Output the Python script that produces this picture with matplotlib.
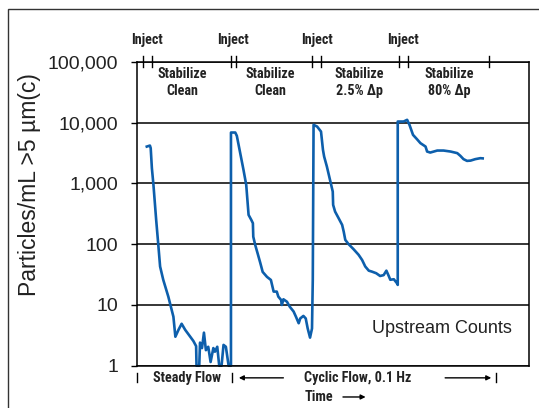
import numpy as np
import matplotlib.pyplot as plt
import matplotlib.transforms as mtransforms
from matplotlib.patches import Rectangle

# upstream particle counts vs time (arbitrary time units, 0-100)
time = [2.5, 3.3, 3.5, 3.8, 4.2, 4.9, 5.4, 5.9, 6.7, 8.0, 9.3, 9.8, 10.6, 11.4, 12.3,
        13.6, 14.4, 15.1, 15.2, 15.9, 16.1, 16.6, 17.1, 17.6, 18.2, 18.8, 19.5, 19.9,
        20.5, 21.0, 21.6, 22.1, 22.7, 23.4, 24.0,
        24.0, 25.1, 25.5, 26.2, 27.2, 27.9, 28.5, 29.2, 29.6, 29.7, 30.2, 30.8, 31.5,
        32.1, 33.2, 34.2, 34.9, 35.7, 36.1, 36.8, 37.0, 37.4, 38.3, 39.0, 40.0, 40.6,
        41.3, 41.7, 42.5, 43.1, 43.6, 44.2, 44.7, 44.9, 45.1,
        46.0, 47.0, 47.5, 47.8, 48.5, 49.4, 50.0, 50.1, 50.6, 51.5, 52.4, 52.8, 53.2,
        54.0, 55.3, 56.6, 57.5, 58.3, 59.2, 60.0, 61.1, 62.1, 63.0, 63.7, 64.3, 64.7,
        65.6, 66.4, 66.6, 66.6,
        68.1, 69.0, 69.6, 70.5, 71.5, 72.4, 73.7, 74.1, 74.9, 75.8, 76.7, 78.3, 80.1,
        81.8, 82.6, 83.4, 84.3, 85.2, 86.4, 87.7, 88.3]
counts = [4050, 4210, 3820, 1790, 950, 250, 105, 43, 26, 13.7, 6.4, 3.0, 3.9, 4.9, 3.9,
          3.0, 2.55, 2.1, 1, 1, 2.4, 1.95, 3.5, 1.8, 2.05, 1.15, 1.95, 1.7,
          2.05, 1, 1, 2.2, 2.05, 1, 1,
          6900, 6900, 6090, 3580, 1675, 948, 304, 251, 222, 133, 97, 71, 49,
          35, 29, 25.8, 16.6, 16.6, 13.7, 12.1, 10, 12.4, 11.3, 9.4, 7.8, 6.4,
          5.0, 6.0, 6.6, 6.0, 4.1, 2.9, 4.1, 26, 9230,
          8660, 7160, 3580, 2775, 1900, 1075, 735, 444, 344, 268, 208, 161, 118,
          101, 83, 67, 55, 43, 36.7, 35.4, 33.3, 30, 31, 36.7, 30, 26,
          26.5, 22.8, 21.4, 10470,
          10470, 11170, 9230, 6320, 5370, 4610, 4055, 3355, 3230, 3355, 3485, 3485, 3355,
          3160, 2850, 2515, 2355, 2380, 2515, 2610, 2590]

yticks = [1, 10, 100, 1000, 10000, 100000]
ytick_labels = ['1', '10', '100', '1,000', '10,000', '100,000']

inject_times = [(1.5, 3.8), (23.9, 25.2), (44.8, 47.1), (66.8, 69.1)]
stage_labels = ['Stabilize\nClean', 'Stabilize\nClean', 'Stabilize\n2.5% \u0394p', 'Stabilize\n80% \u0394p']
stage_centers = [11.5, 34.0, 56.8, 79.8]
end_time = 89.8

narrow = ['Roboto Condensed', 'Roboto', 'DejaVu Sans']
plt.rcParams['font.family'] = ['Liberation Sans', 'DejaVu Sans']
ink = '#222222'

fig = plt.figure(figsize=(5.39, 4.08), dpi=100)
fig.patches.append(Rectangle((7.5 / 539, -0.1), 1.0, 1.0 - 9 / 408 + 0.1, transform=fig.transFigure,
                             fill=False, edgecolor='#333333', linewidth=1.0))
ax = fig.add_axes([137 / 539, 42.3 / 408, 391.5 / 539, 303.7 / 408])

ax.plot(time, counts, color='#0d5fac', linewidth=1.9, clip_on=False, solid_joinstyle='round')

ax.set_yscale('log')
ax.set_ylim(1, 100000)
ax.set_xlim(0, 100)
ax.set_yticks(yticks)
ax.set_yticklabels(ytick_labels, fontsize=14, color=ink)
ax.minorticks_off()
ax.tick_params(axis='y', direction='out', length=4.5, width=1.0, pad=9)
ax.set_xticks([])
ax.grid(axis='y', color='black', linewidth=1.1)
for s in ax.spines.values():
    s.set_linewidth(1.1)
ax.set_ylabel('Particles/mL >5 \u00b5m(c)', fontsize=16.5, color=ink)
ax.yaxis.set_label_coords(-0.245, 0.595)

tr = mtransforms.blended_transform_factory(ax.transData, ax.transAxes)
small = dict(transform=tr, fontsize=10.2, fontweight='bold', family=narrow, color=ink)

# inject markers on top
for a, b in inject_times:
    for x in (a, b):
        ax.plot([x, x], [0.983, 1.02], color='black', lw=1.0, transform=tr, clip_on=False)
    ax.text((a + b) / 2, 1.072, 'Inject', ha='center', va='center', **small)
ax.plot([end_time, end_time], [0.983, 1.02], color='black', lw=1.0, transform=tr, clip_on=False)

for xc, lab in zip(stage_centers, stage_labels):
    ax.text(xc, 0.932, lab, ha='center', va='center', linespacing=1.25, **small)

ax.text(60.1, 0.121, 'Upstream Counts', transform=tr, ha='left', va='center',
        fontsize=13, color=ink)

# flow regime row below the axis
arrow = dict(arrowstyle='-|>', color='black', lw=1.0, mutation_scale=7)
ax.plot([0, 0], [-0.024, -0.055], color='black', lw=1.0, transform=tr, clip_on=False)
ax.plot([24.3, 24.3], [-0.024, -0.055], color='black', lw=1.0, transform=tr, clip_on=False)
ax.text(12.7, -0.04, 'Steady Flow', ha='center', va='center', **small)
ax.annotate('', xy=(25.3, -0.04), xytext=(38.1, -0.04), xycoords=tr, textcoords=tr,
            arrowprops=arrow, annotation_clip=False)
ax.text(56.3, -0.04, 'Cyclic Flow, 0.1 Hz', ha='center', va='center', **small)
ax.annotate('', xy=(91.2, -0.04), xytext=(78.0, -0.04), xycoords=tr, textcoords=tr,
            arrowprops=arrow, annotation_clip=False)
ax.plot([91.6, 91.6], [-0.024, -0.055], color='black', lw=1.0, transform=tr, clip_on=False)
ax.text(42.7, -0.103, 'Time', ha='left', va='center', **small)
ax.annotate('', xy=(59.1, -0.103), xytext=(51.9, -0.103), xycoords=tr, textcoords=tr,
            arrowprops=arrow, annotation_clip=False)

fig.savefig('out.png', dpi=100)
